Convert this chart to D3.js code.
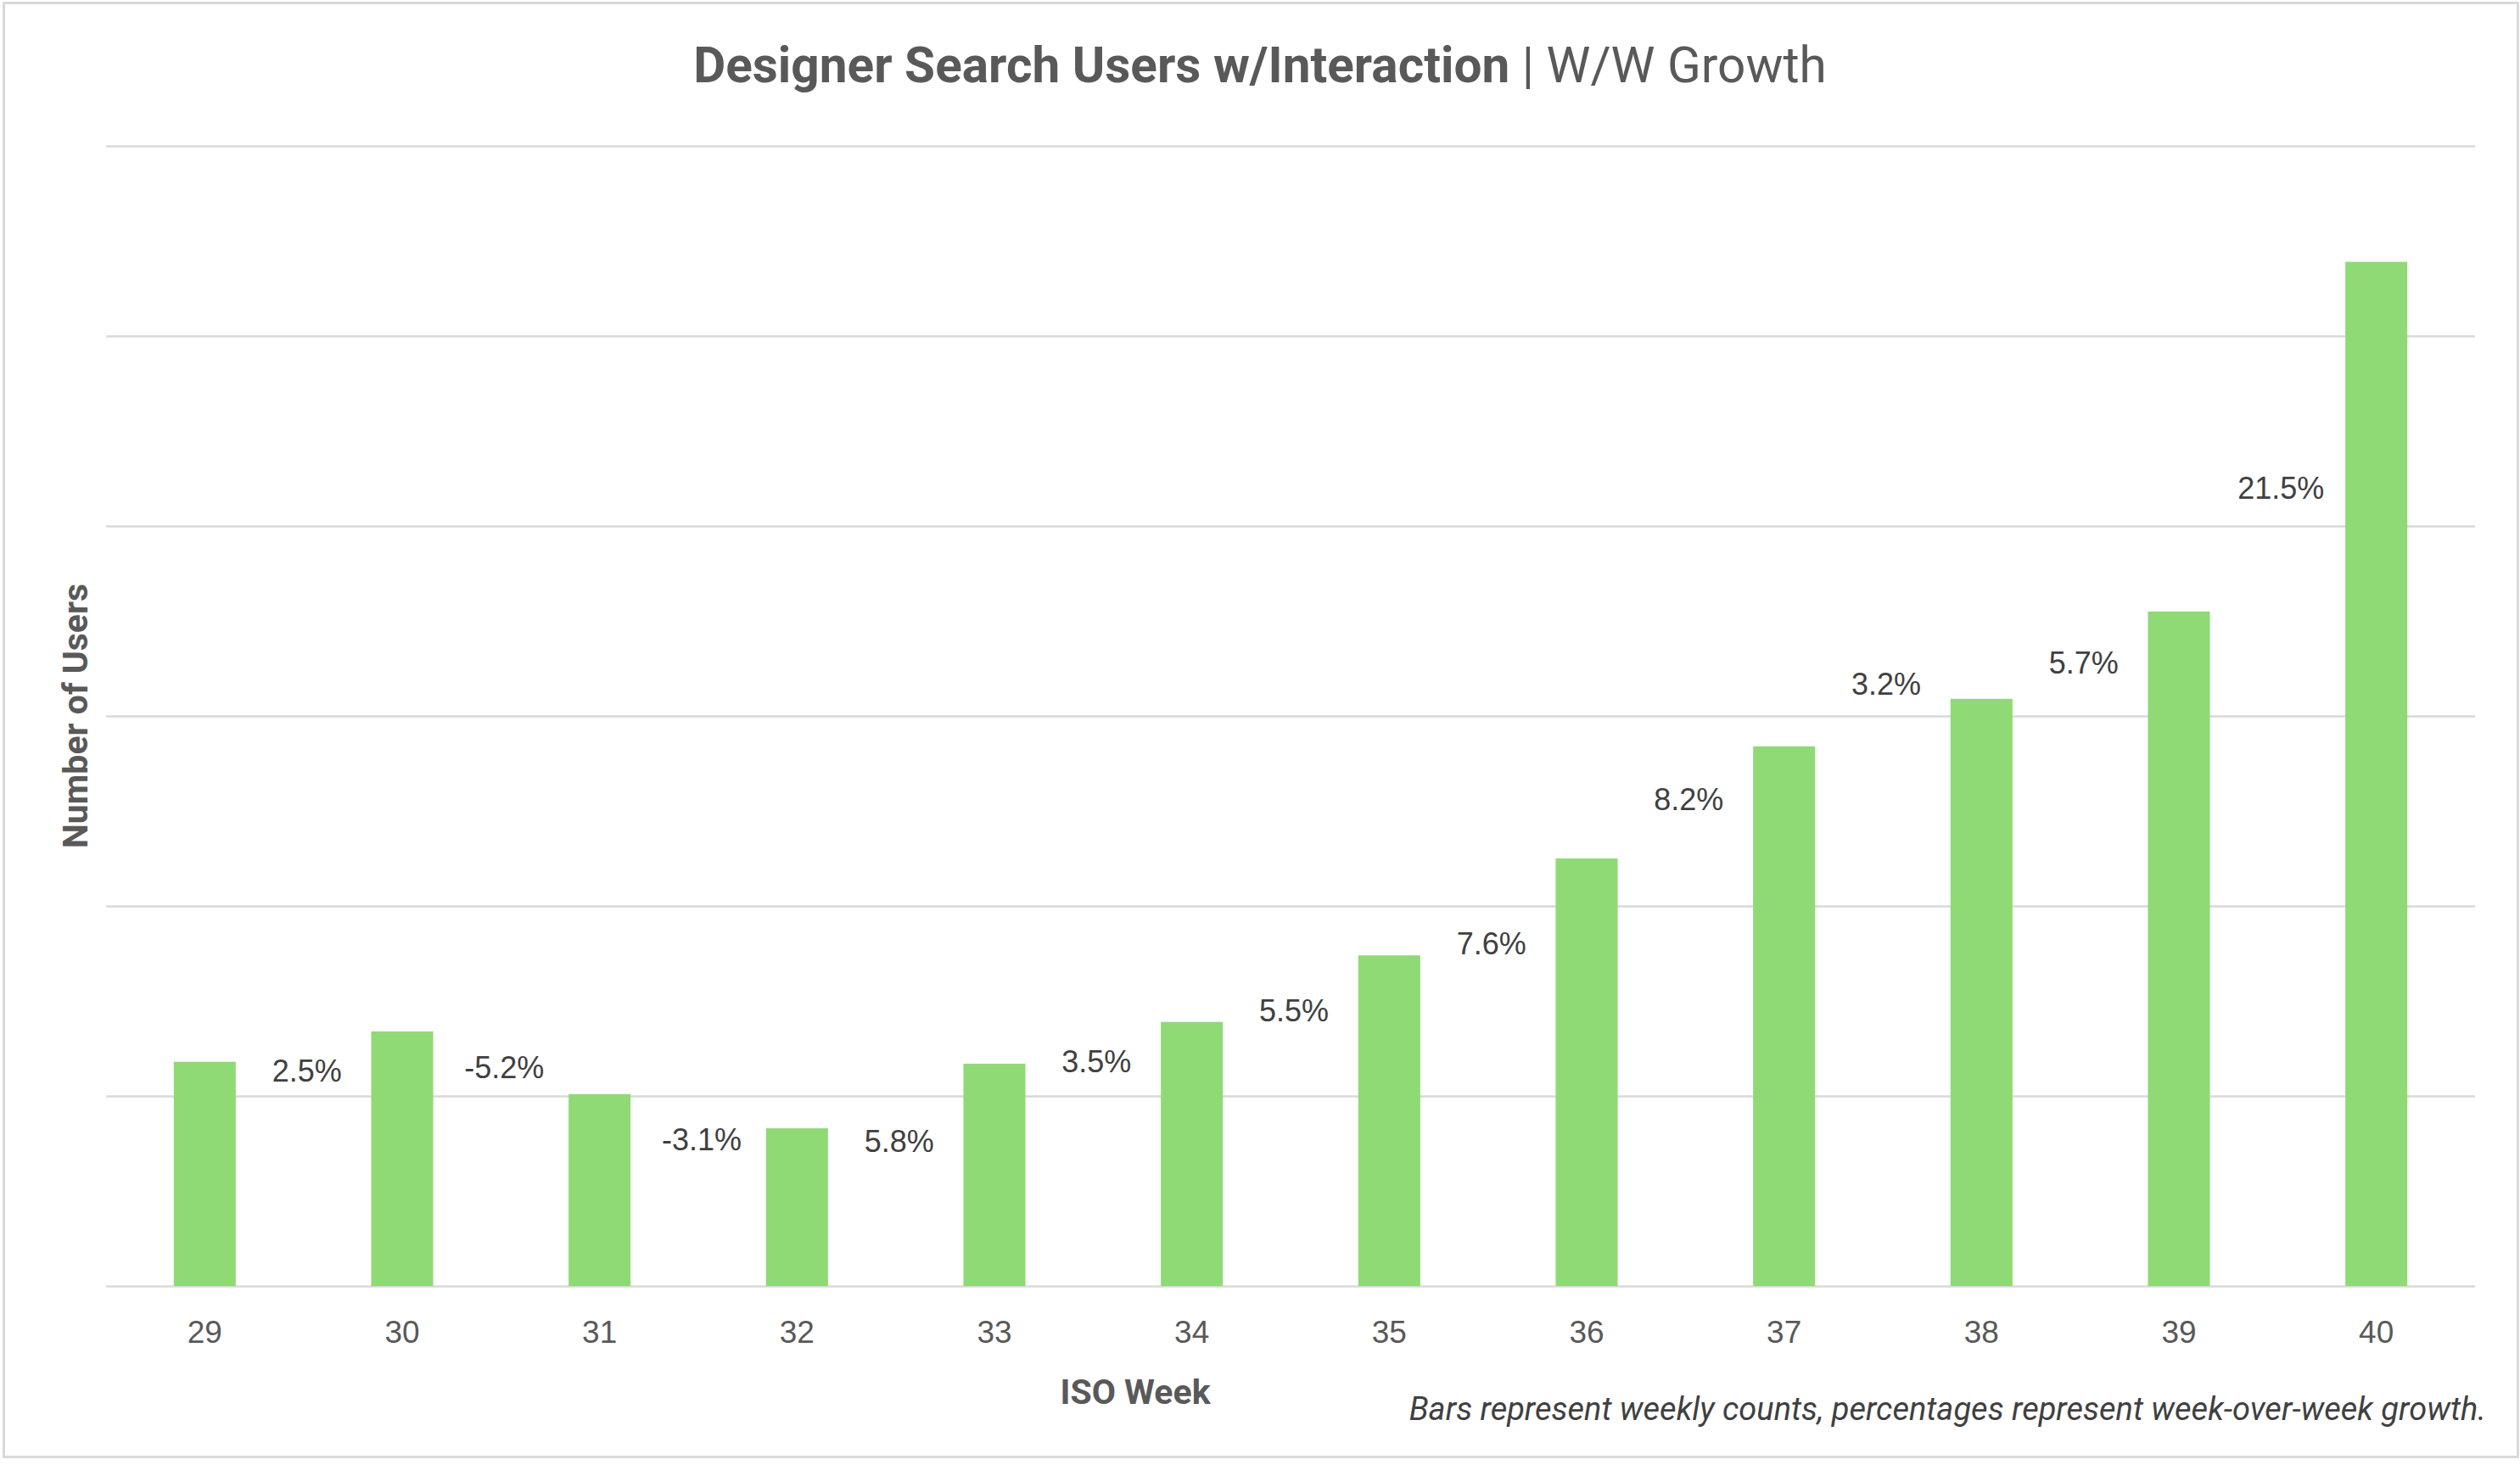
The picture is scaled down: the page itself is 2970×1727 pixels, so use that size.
<!DOCTYPE html>
<html>
<head>
<meta charset="utf-8">
<script src="https://cdn.jsdelivr.net/npm/d3@7"></script>
<style>
  html, body { margin: 0; padding: 0; background: #ffffff; }
  svg { display: block; }
</style>
</head>
<body>
<svg id="chart" width="2970" height="1727"></svg>
<script>
// ---- data ----
const weeks = ["29", "30", "31", "32", "33", "34", "35", "36", "37", "38", "39", "40"];
const users = [618, 634, 601, 583, 617, 639, 674, 725, 784, 809, 855, 1039];
const growthLabels = ["2.5%", "-5.2%", "-3.1%", "5.8%", "3.5%", "5.5%", "7.6%", "8.2%", "3.2%", "5.7%", "21.5%"];
const growthLabelLevel = [613, 615, 577, 576, 618, 645, 680, 756, 817, 828, 920];
const yTicks = [500, 600, 700, 800, 900, 1000, 1100];

const titleBold = "Designer Search Users w/Interaction";
const titleLight = "| W/W Growth";
const xTitle = "ISO Week";
const yTitle = "Number of Users";
const footnote = "Bars represent weekly counts, percentages represent week-over-week growth.";

// ---- layout ----
const W = 2970, H = 1727;
const plot = { left: 125, right: 2917, top: 172, bottom: 1516 };
const svg = d3.select("#chart");

// chart frame
svg.append("rect")
  .attr("x", 4.5).attr("y", 3.5)
  .attr("width", 2963).attr("height", 1714)
  .attr("fill", "#ffffff")
  .attr("stroke", "#d9d9d9").attr("stroke-width", 3);

const x = d3.scaleBand()
  .domain(weeks)
  .range([plot.left, plot.right])
  .paddingInner(0.686)
  .paddingOuter(0.343);

const y = d3.scaleLinear()
  .domain([500, 1100])
  .range([plot.bottom, plot.top]);

// gridlines
svg.append("g")
  .attr("transform", `translate(${plot.left},0)`)
  .call(d3.axisLeft(y).tickValues(yTicks).tickSize(-(plot.right - plot.left)).tickFormat(""))
  .call(g => g.select(".domain").remove())
  .call(g => g.selectAll(".tick line").attr("stroke", "#d9d9d9").attr("stroke-width", 2.5));

// bars
svg.append("g").selectAll("rect")
  .data(users)
  .join("rect")
  .attr("x", (d, i) => x(weeks[i]))
  .attr("width", x.bandwidth())
  .attr("y", d => y(d))
  .attr("height", d => y(500) - y(d))
  .attr("fill", "#8fda74");

// x axis labels
svg.append("g")
  .attr("transform", `translate(0,${plot.bottom})`)
  .call(d3.axisBottom(x).tickSize(0).tickPadding(0))
  .call(g => g.select(".domain").remove())
  .call(g => g.selectAll(".tick text")
    .attr("y", 54)
    .attr("dy", "0.35em")
    .attr("fill", "#595959")
    .style("font-family", "'Liberation Sans', Arial, sans-serif")
    .style("font-size", "37px"));

// growth labels between bars
const half = x.step() / 2;
svg.append("g").selectAll("text")
  .data(growthLabels)
  .join("text")
  .attr("x", (d, i) => x(weeks[i]) + x.bandwidth() / 2 + half + 4)
  .attr("y", (d, i) => y(growthLabelLevel[i]))
  .attr("dy", "0.35em")
  .attr("text-anchor", "middle")
  .attr("fill", "#404040")
  .style("font-family", "'Liberation Sans', Arial, sans-serif")
  .style("font-size", "36px")
  .text(d => d);

// title
const title = svg.append("text")
  .attr("x", W / 2)
  .attr("y", 97)
  .attr("text-anchor", "middle")
  .attr("fill", "#595959")
  .style("font-family", "Roboto, 'Liberation Sans', sans-serif")
  .style("font-size", "58.5px");
title.append("tspan").attr("font-weight", "700").text(titleBold);
title.append("tspan").attr("font-weight", "400").text(" " + titleLight);

// x axis title
svg.append("text")
  .attr("x", 1338)
  .attr("y", 1655)
  .attr("text-anchor", "middle")
  .attr("fill", "#595959")
  .attr("font-weight", "700")
  .style("font-family", "Roboto, 'Liberation Sans', sans-serif")
  .style("font-size", "41px")
  .text(xTitle);

// y axis title
svg.append("text")
  .attr("transform", `translate(103,${(plot.top + plot.bottom) / 2}) rotate(-90)`)
  .attr("text-anchor", "middle")
  .attr("fill", "#595959")
  .attr("font-weight", "700")
  .style("font-family", "Roboto, 'Liberation Sans', sans-serif")
  .style("font-size", "41px")
  .text(yTitle);

// footnote
svg.append("text")
  .attr("x", 2930)
  .attr("y", 1674)
  .attr("text-anchor", "end")
  .attr("fill", "#404040")
  .attr("font-style", "italic")
  .style("font-family", "Roboto, 'Liberation Sans', sans-serif")
  .style("font-size", "38px")
  .text(footnote);
</script>
</body>
</html>
